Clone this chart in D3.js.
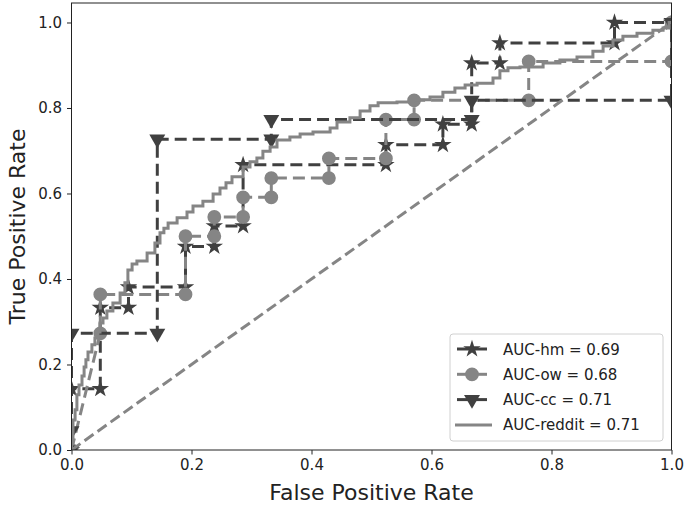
<!DOCTYPE html>
<html><head><meta charset="utf-8">
<script src="https://cdn.jsdelivr.net/npm/d3@7"></script>
<style>body{margin:0;background:#fff}svg{display:block}text{font-family:"DejaVu Sans",sans-serif}</style>
</head><body><svg id="c" width="685" height="505"></svg>
<script>
// Data
const hmX = [0, 0, 0.048, 0.048, 0.095, 0.095, 0.190, 0.190, 0.238, 0.238, 0.286, 0.286, 0.524, 0.524, 0.619, 0.619, 0.667, 0.667, 0.714, 0.714, 0.905, 0.905, 1.0];
const hmY = [0, 0.143, 0.143, 0.333, 0.333, 0.381, 0.381, 0.476, 0.476, 0.524, 0.524, 0.667, 0.667, 0.714, 0.714, 0.762, 0.762, 0.905, 0.905, 0.952, 0.952, 1.0, 1.0];
const owX = [0, 0.048, 0.048, 0.190, 0.190, 0.238, 0.238, 0.286, 0.286, 0.333, 0.333, 0.429, 0.429, 0.524, 0.524, 0.571, 0.571, 0.762, 0.762, 1.0, 1.0];
const owY = [0, 0.273, 0.364, 0.364, 0.5, 0.5, 0.545, 0.545, 0.591, 0.591, 0.636, 0.636, 0.682, 0.682, 0.773, 0.773, 0.818, 0.818, 0.909, 0.909, 1.0];
const ccX = [0, 0, 0, 0.143, 0.143, 0.333, 0.333, 0.667, 0.667, 1.0, 1.0];
const ccY = [0, 0.045, 0.273, 0.273, 0.727, 0.727, 0.773, 0.773, 0.818, 0.818, 1.0];
const redditX = [0, 0.0025, 0.006, 0.009, 0.0125, 0.0175, 0.021, 0.024, 0.0275, 0.034, 0.039, 0.044, 0.0475, 0.0525, 0.059, 0.069, 0.081, 0.089, 0.094, 0.101, 0.109, 0.126, 0.139, 0.1475, 0.154, 0.161, 0.176, 0.1925, 0.2025, 0.219, 0.236, 0.2475, 0.2575, 0.2675, 0.286, 0.2975, 0.309, 0.319, 0.331, 0.3425, 0.364, 0.381, 0.4025, 0.431, 0.4425, 0.464, 0.481, 0.4975, 0.511, 0.5425, 0.569, 0.5975, 0.619, 0.639, 0.656, 0.676, 0.7025, 0.714, 0.7275, 0.7475, 0.786, 0.814, 0.8425, 0.869, 0.886, 0.9025, 0.919, 0.9425, 0.969, 0.986, 0.996, 1.0];
const redditY = [0, 0.023, 0.070, 0.094, 0.129, 0.152, 0.173, 0.194, 0.211, 0.229, 0.246, 0.262, 0.276, 0.297, 0.309, 0.325, 0.344, 0.367, 0.391, 0.421, 0.435, 0.442, 0.461, 0.484, 0.508, 0.519, 0.531, 0.543, 0.557, 0.571, 0.582, 0.599, 0.613, 0.625, 0.639, 0.662, 0.674, 0.683, 0.699, 0.709, 0.725, 0.732, 0.739, 0.744, 0.753, 0.767, 0.777, 0.793, 0.805, 0.812, 0.814, 0.819, 0.826, 0.837, 0.847, 0.854, 0.858, 0.870, 0.887, 0.894, 0.896, 0.905, 0.912, 0.919, 0.933, 0.945, 0.959, 0.968, 0.975, 0.982, 0.987, 1.0];
const diagX = [0, 1];
const diagY = [0, 1];
const legendLabels = ["AUC-hm = 0.69", "AUC-ow = 0.68", "AUC-cc = 0.71", "AUC-reddit = 0.71"];
const tickVals = [0, 0.2, 0.4, 0.6, 0.8, 1.0];

const DARK = "#404040", GRAY = "#858585";
const L = 71.5, R = 671.5, T = 3, B = 450;
const svg = d3.select("#c");
const x = d3.scaleLinear().domain([0, 1]).range([L, R]);
const y = d3.scaleLinear().domain([0, 1.0456]).range([B, T]);

svg.append("defs").append("clipPath").attr("id", "clip")
  .append("rect").attr("x", L).attr("y", T).attr("width", R - L).attr("height", B - T);
const g = svg.append("g").attr("clip-path", "url(#clip)");

const zip = (xs, ys) => xs.map((v, i) => [v, ys[i]]);
const line = d3.line().x(d => x(d[0])).y(d => y(d[1]));

const starSym = d3.symbol().type(d3.symbolStar).size(95);
const circSym = d3.symbol().type(d3.symbolCircle).size(150);
const triSym = d3.symbol().type(d3.symbolTriangle).size(110);

const series = [
  {pts: zip(hmX, hmY), color: DARK, sym: starSym, rot: 0},
  {pts: zip(owX, owY), color: GRAY, sym: circSym, rot: 0},
  {pts: zip(ccX, ccY), color: DARK, sym: triSym, rot: 180},
];
series.forEach(s => {
  g.append("path").attr("d", line(s.pts)).attr("fill", "none")
    .attr("stroke", s.color).attr("stroke-width", 3).attr("stroke-dasharray", "12,6");
  g.selectAll(null).data(s.pts).enter().append("path")
    .attr("d", s.sym())
    .attr("transform", d => `translate(${x(d[0])},${y(d[1])}) rotate(${s.rot})`)
    .attr("fill", s.color);
});
g.append("path").attr("d", d3.line().x(d => x(d[0])).y(d => y(d[1])).curve(d3.curveStepBefore)(zip(redditX, redditY)))
  .attr("fill", "none").attr("stroke", GRAY).attr("stroke-width", 3);
g.append("path").attr("d", line(zip(diagX, diagY))).attr("fill", "none")
  .attr("stroke", GRAY).attr("stroke-width", 3).attr("stroke-dasharray", "11,5");

// frame
svg.append("rect").attr("x", L).attr("y", T).attr("width", R - L).attr("height", B - T)
  .attr("fill", "none").attr("stroke", "#222").attr("stroke-width", 1);

// axes
const xa = svg.append("g").attr("transform", `translate(0,${B})`)
  .call(d3.axisBottom(x).tickValues(tickVals).tickFormat(d3.format(".1f")).tickSize(4.5).tickPadding(5));
const ya = svg.append("g").attr("transform", `translate(${L},0)`)
  .call(d3.axisLeft(y).tickValues(tickVals).tickFormat(d3.format(".1f")).tickSize(4.5).tickPadding(5));
[xa, ya].forEach(a => {
  a.select(".domain").remove();
  a.selectAll("line").attr("stroke", "#222");
  a.selectAll("text").attr("font-size", 15).attr("fill", "#222").attr("font-family", "DejaVu Sans");
});

svg.append("text").attr("x", (L + R) / 2).attr("y", 500).attr("text-anchor", "middle")
  .attr("font-size", 22).attr("fill", "#222").text("False Positive Rate");
svg.append("text").attr("transform", `translate(25,${(T + B) / 2}) rotate(-90)`).attr("text-anchor", "middle")
  .attr("font-size", 22).attr("fill", "#222").text("True Positive Rate");

// legend
const lg = svg.append("g");
lg.append("rect").attr("x", 450).attr("y", 334).attr("width", 213).attr("height", 107).attr("rx", 3)
  .attr("fill", "#fff").attr("fill-opacity", 0.8).attr("stroke", "#d0d0d0");
const legSyms = [starSym, circSym, triSym, null];
const legCols = [DARK, GRAY, DARK, GRAY];
const legRot = [0, 0, 180, 0];
legendLabels.forEach((t, i) => {
  const yy = 349 + i * 25.3;
  lg.append("line").attr("x1", i === 3 ? 455 : 457).attr("x2", i === 3 ? 492 : 487).attr("y1", yy).attr("y2", yy)
    .attr("stroke", legCols[i]).attr("stroke-width", 3);
  if (legSyms[i]) lg.append("path").attr("d", legSyms[i]()).attr("fill", legCols[i])
    .attr("transform", `translate(472,${yy}) rotate(${legRot[i]})`);
  lg.append("text").attr("x", 503).attr("y", yy + 5.5).attr("font-size", 15).attr("fill", "#222").text(t);
});
</script></body></html>
